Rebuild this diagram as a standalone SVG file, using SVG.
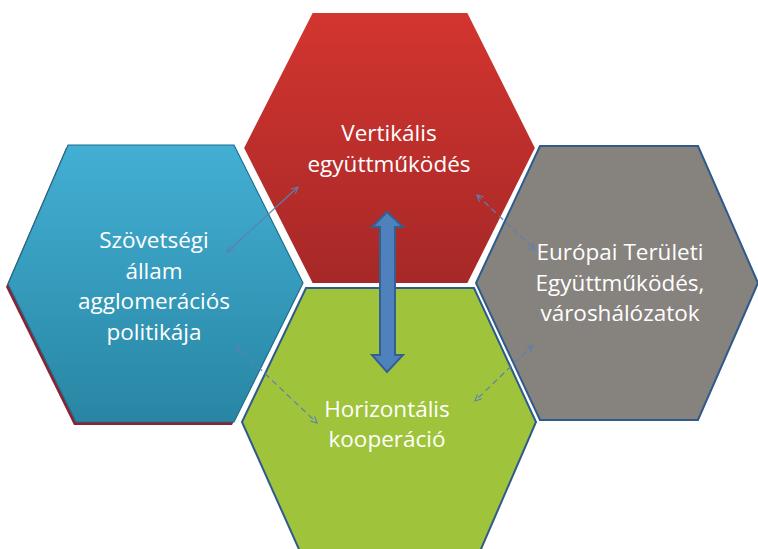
<svg xmlns="http://www.w3.org/2000/svg" width="758" height="549" viewBox="0 0 758 549">
<style>
.lbl{font-family:"Open Sans","Liberation Sans",sans-serif;font-size:22.5px;fill:#ffffff;text-anchor:middle}
.thin{fill:none;stroke:#5b80b4;stroke-width:1.2}
.dash{stroke-dasharray:6 4}
</style>
<defs>
<linearGradient id="gRed" x1="0" y1="0" x2="0" y2="1">
<stop offset="0" stop-color="#d3352f"/>
<stop offset="1" stop-color="#a62828"/>
</linearGradient>
<linearGradient id="gBlue" x1="0" y1="0" x2="0" y2="1">
<stop offset="0" stop-color="#43afd4"/>
<stop offset="1" stop-color="#2886a3"/>
</linearGradient>
<marker id="ah" viewBox="0 0 10 10" refX="9" refY="5" markerWidth="8" markerHeight="8" markerUnits="userSpaceOnUse" orient="auto-start-reverse">
<path d="M1,1 L9,5 L1,9" fill="none" stroke="#5b80b4" stroke-width="1.3"/>
</marker>
</defs>
<rect width="758" height="549" fill="#ffffff"/>
<g id="node-vertikalis">
<polygon points="312,12 468,12 536,148 468,284 312,284 243,148" fill="url(#gRed)" stroke="#ffffff" stroke-width="2"/>
<text class="lbl" x="389" y="141">Vertikális</text>
<text class="lbl" x="389" y="172">együttműködés</text>
</g>
<g id="node-horizontalis">
<polygon points="306,288 474,288 536,422 478,556 302,556 242,422" fill="#9fc43c" stroke="#2f5a8c" stroke-width="2"/>
<text class="lbl" x="387" y="417">Horizontális</text>
<text class="lbl" x="387" y="447">kooperáció</text>
</g>
<g id="node-szovetsegi">
<polygon points="66,148 232,148 301,286 232,425 74,425 6,287" fill="#8b2232"/>
<polygon points="68,145 234,145 303,283 234,422 76,422 8,284" fill="url(#gBlue)" stroke="#1f6f8f" stroke-width="1.2"/>
<text class="lbl" x="154" y="248">Szövetségi</text>
<text class="lbl" x="154" y="279">állam</text>
<text class="lbl" x="154" y="309">agglomerációs</text>
<text class="lbl" x="154" y="340">politikája</text>
</g>
<g id="node-europai">
<polygon points="540,146 698,146 758,283 698,420 540,420 476,283" fill="#86827d" stroke="#2f5a8c" stroke-width="2"/>
<text class="lbl" x="620" y="260">Európai Területi</text>
<text class="lbl" x="620" y="291">Együttműködés,</text>
<text class="lbl" x="620" y="321">városhálózatok</text>
</g>
<g id="connectors">
<line class="thin" x1="227" y1="252" x2="298" y2="187" marker-start="url(#ah)" marker-end="url(#ah)"/>
<line class="thin dash" x1="477" y1="195" x2="535" y2="250" marker-start="url(#ah)" marker-end="url(#ah)"/>
<line class="thin dash" x1="533" y1="345" x2="475" y2="401" marker-start="url(#ah)" marker-end="url(#ah)"/>
<line class="thin dash" x1="236" y1="346" x2="317" y2="423" marker-start="url(#ah)" marker-end="url(#ah)"/>
<polygon points="387,212 403,227 395,227 395,355 403,355 387,372 372,355 380,355 380,227 372,227" fill="#4f81bd" stroke="#365f91" stroke-width="2" stroke-linejoin="miter"/>
</g>
</svg>
